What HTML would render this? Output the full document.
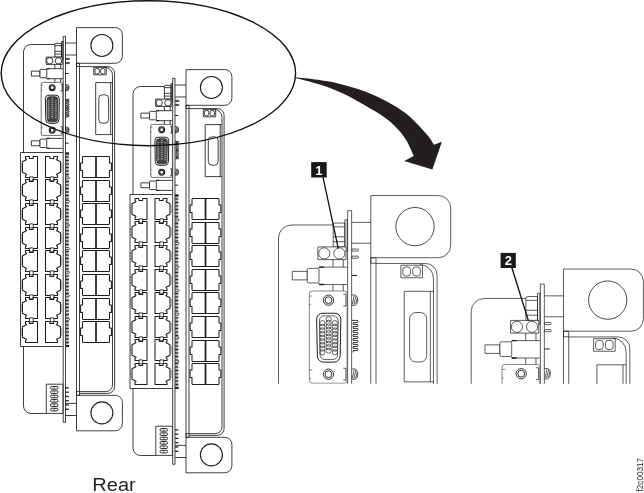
<!DOCTYPE html>
<html lang="en"><head><meta charset="utf-8"><title>Rear view</title>
<style>html,body{margin:0;padding:0;background:#fff}body{width:644px;height:493px;overflow:hidden;position:relative;font-family:"Liberation Sans",Arial,sans-serif}svg{position:absolute;left:0;top:0;display:block;will-change:transform}#card *{vector-effect:non-scaling-stroke}</style>
</head><body>
<svg width="644" height="493" viewBox="0 0 644 493">
<defs>
<g id="card" fill="none" stroke="#1f1c1d" stroke-linejoin="round" style="stroke-width:var(--sw,0.85)">
<path d="M54.9,44.5H31A7.5,7.5 0 0 0 23.5,52V152.5"/>
<path d="M23.5,346.5V406A7.5,7.5 0 0 0 31,413.5H46.5"/>
<path d="M63,152.5H20.5V346.5H63"/>
<path transform="translate(21.5,156.50)" d="M16,0H11.6V1.9H7.9V0H4V1.8L4.9,2.9V3.3L1,5.3V15.7L4.9,17.7V18.1L4,19.2V21H16Z" stroke-width="1.05"/><path transform="translate(21.5,156.50)" d="M1,6.8H-0.3V14.2H1" stroke-width="0.6" stroke="#666"/>
<path transform="translate(61.5,156.50) scale(-1,1)" d="M16,0H11.6V1.9H7.9V0H4V1.8L4.9,2.9V3.3L1,5.3V15.7L4.9,17.7V18.1L4,19.2V21H16Z" stroke-width="1.05"/><path transform="translate(61.5,156.50) scale(-1,1)" d="M1,6.8H-0.3V14.2H1" stroke-width="0.6" stroke="#666"/>
<rect x="29.5" y="176.90" width="3.7" height="3.9" fill="#fff"/>
<rect x="50.3" y="176.90" width="3.7" height="3.9" fill="#fff"/>
<path transform="translate(0,156.50)" d="M83.1,0H108.9L109.5,0.6V6.5H111.4V14H109.5V20.4L108.9,21H83.1L82.5,20.4V14H80.6V6.5H82.5V0.6Z" stroke-width="1.05"/>
<path d="M96,156.50V177.50" stroke-width="1.7"/>
<path transform="translate(21.5,179.50)" d="M16,0H11.6V1.9H7.9V0H4V1.8L4.9,2.9V3.3L1,5.3V15.7L4.9,17.7V18.1L4,19.2V21H16Z" stroke-width="1.05"/><path transform="translate(21.5,179.50)" d="M1,6.8H-0.3V14.2H1" stroke-width="0.6" stroke="#666"/>
<path transform="translate(61.5,179.50) scale(-1,1)" d="M16,0H11.6V1.9H7.9V0H4V1.8L4.9,2.9V3.3L1,5.3V15.7L4.9,17.7V18.1L4,19.2V21H16Z" stroke-width="1.05"/><path transform="translate(61.5,179.50) scale(-1,1)" d="M1,6.8H-0.3V14.2H1" stroke-width="0.6" stroke="#666"/>
<rect x="29.5" y="199.90" width="3.7" height="3.9" fill="#fff"/>
<rect x="50.3" y="199.90" width="3.7" height="3.9" fill="#fff"/>
<path transform="translate(0,180.50)" d="M83.1,0H108.9L109.5,0.6V6.5H111.4V14H109.5V20.4L108.9,21H83.1L82.5,20.4V14H80.6V6.5H82.5V0.6Z" stroke-width="1.05"/>
<path d="M96,180.50V201.50" stroke-width="1.7"/>
<path transform="translate(21.5,203.50)" d="M16,0H11.6V1.9H7.9V0H4V1.8L4.9,2.9V3.3L1,5.3V15.7L4.9,17.7V18.1L4,19.2V21H16Z" stroke-width="1.05"/><path transform="translate(21.5,203.50)" d="M1,6.8H-0.3V14.2H1" stroke-width="0.6" stroke="#666"/>
<path transform="translate(61.5,203.50) scale(-1,1)" d="M16,0H11.6V1.9H7.9V0H4V1.8L4.9,2.9V3.3L1,5.3V15.7L4.9,17.7V18.1L4,19.2V21H16Z" stroke-width="1.05"/><path transform="translate(61.5,203.50) scale(-1,1)" d="M1,6.8H-0.3V14.2H1" stroke-width="0.6" stroke="#666"/>
<rect x="29.5" y="223.90" width="3.7" height="3.9" fill="#fff"/>
<rect x="50.3" y="223.90" width="3.7" height="3.9" fill="#fff"/>
<path transform="translate(0,203.50)" d="M83.1,0H108.9L109.5,0.6V6.5H111.4V14H109.5V20.4L108.9,21H83.1L82.5,20.4V14H80.6V6.5H82.5V0.6Z" stroke-width="1.05"/>
<path d="M96,203.50V224.50" stroke-width="1.7"/>
<path transform="translate(21.5,227.50)" d="M16,0H11.6V1.9H7.9V0H4V1.8L4.9,2.9V3.3L1,5.3V15.7L4.9,17.7V18.1L4,19.2V21H16Z" stroke-width="1.05"/><path transform="translate(21.5,227.50)" d="M1,6.8H-0.3V14.2H1" stroke-width="0.6" stroke="#666"/>
<path transform="translate(61.5,227.50) scale(-1,1)" d="M16,0H11.6V1.9H7.9V0H4V1.8L4.9,2.9V3.3L1,5.3V15.7L4.9,17.7V18.1L4,19.2V21H16Z" stroke-width="1.05"/><path transform="translate(61.5,227.50) scale(-1,1)" d="M1,6.8H-0.3V14.2H1" stroke-width="0.6" stroke="#666"/>
<rect x="29.5" y="247.90" width="3.7" height="3.9" fill="#fff"/>
<rect x="50.3" y="247.90" width="3.7" height="3.9" fill="#fff"/>
<path transform="translate(0,227.50)" d="M83.1,0H108.9L109.5,0.6V6.5H111.4V14H109.5V20.4L108.9,21H83.1L82.5,20.4V14H80.6V6.5H82.5V0.6Z" stroke-width="1.05"/>
<path d="M96,227.50V248.50" stroke-width="1.7"/>
<path transform="translate(21.5,250.50)" d="M16,0H11.6V1.9H7.9V0H4V1.8L4.9,2.9V3.3L1,5.3V15.7L4.9,17.7V18.1L4,19.2V21H16Z" stroke-width="1.05"/><path transform="translate(21.5,250.50)" d="M1,6.8H-0.3V14.2H1" stroke-width="0.6" stroke="#666"/>
<path transform="translate(61.5,250.50) scale(-1,1)" d="M16,0H11.6V1.9H7.9V0H4V1.8L4.9,2.9V3.3L1,5.3V15.7L4.9,17.7V18.1L4,19.2V21H16Z" stroke-width="1.05"/><path transform="translate(61.5,250.50) scale(-1,1)" d="M1,6.8H-0.3V14.2H1" stroke-width="0.6" stroke="#666"/>
<rect x="29.5" y="270.90" width="3.7" height="3.9" fill="#fff"/>
<rect x="50.3" y="270.90" width="3.7" height="3.9" fill="#fff"/>
<path transform="translate(0,250.50)" d="M83.1,0H108.9L109.5,0.6V6.5H111.4V14H109.5V20.4L108.9,21H83.1L82.5,20.4V14H80.6V6.5H82.5V0.6Z" stroke-width="1.05"/>
<path d="M96,250.50V271.50" stroke-width="1.7"/>
<path transform="translate(21.5,274.50)" d="M16,0H11.6V1.9H7.9V0H4V1.8L4.9,2.9V3.3L1,5.3V15.7L4.9,17.7V18.1L4,19.2V21H16Z" stroke-width="1.05"/><path transform="translate(21.5,274.50)" d="M1,6.8H-0.3V14.2H1" stroke-width="0.6" stroke="#666"/>
<path transform="translate(61.5,274.50) scale(-1,1)" d="M16,0H11.6V1.9H7.9V0H4V1.8L4.9,2.9V3.3L1,5.3V15.7L4.9,17.7V18.1L4,19.2V21H16Z" stroke-width="1.05"/><path transform="translate(61.5,274.50) scale(-1,1)" d="M1,6.8H-0.3V14.2H1" stroke-width="0.6" stroke="#666"/>
<rect x="29.5" y="294.90" width="3.7" height="3.9" fill="#fff"/>
<rect x="50.3" y="294.90" width="3.7" height="3.9" fill="#fff"/>
<path transform="translate(0,274.50)" d="M83.1,0H108.9L109.5,0.6V6.5H111.4V14H109.5V20.4L108.9,21H83.1L82.5,20.4V14H80.6V6.5H82.5V0.6Z" stroke-width="1.05"/>
<path d="M96,274.50V295.50" stroke-width="1.7"/>
<path transform="translate(21.5,297.50)" d="M16,0H11.6V1.9H7.9V0H4V1.8L4.9,2.9V3.3L1,5.3V15.7L4.9,17.7V18.1L4,19.2V21H16Z" stroke-width="1.05"/><path transform="translate(21.5,297.50)" d="M1,6.8H-0.3V14.2H1" stroke-width="0.6" stroke="#666"/>
<path transform="translate(61.5,297.50) scale(-1,1)" d="M16,0H11.6V1.9H7.9V0H4V1.8L4.9,2.9V3.3L1,5.3V15.7L4.9,17.7V18.1L4,19.2V21H16Z" stroke-width="1.05"/><path transform="translate(61.5,297.50) scale(-1,1)" d="M1,6.8H-0.3V14.2H1" stroke-width="0.6" stroke="#666"/>
<rect x="29.5" y="317.90" width="3.7" height="3.9" fill="#fff"/>
<rect x="50.3" y="317.90" width="3.7" height="3.9" fill="#fff"/>
<path transform="translate(0,298.50)" d="M83.1,0H108.9L109.5,0.6V6.5H111.4V14H109.5V20.4L108.9,21H83.1L82.5,20.4V14H80.6V6.5H82.5V0.6Z" stroke-width="1.05"/>
<path d="M96,298.50V319.50" stroke-width="1.7"/>
<path transform="translate(21.5,321.50)" d="M16,0H11.6V1.9H7.9V0H4V1.8L4.9,2.9V3.3L1,5.3V15.7L4.9,17.7V18.1L4,19.2V21H16Z" stroke-width="1.05"/><path transform="translate(21.5,321.50)" d="M1,6.8H-0.3V14.2H1" stroke-width="0.6" stroke="#666"/>
<path transform="translate(61.5,321.50) scale(-1,1)" d="M16,0H11.6V1.9H7.9V0H4V1.8L4.9,2.9V3.3L1,5.3V15.7L4.9,17.7V18.1L4,19.2V21H16Z" stroke-width="1.05"/><path transform="translate(61.5,321.50) scale(-1,1)" d="M1,6.8H-0.3V14.2H1" stroke-width="0.6" stroke="#666"/>
<path transform="translate(0,321.50)" d="M83.1,0H108.9L109.5,0.6V6.5H111.4V14H109.5V20.4L108.9,21H83.1L82.5,20.4V14H80.6V6.5H82.5V0.6Z" stroke-width="1.05"/>
<path d="M96,321.50V342.50" stroke-width="1.7"/>
<rect x="65.5" y="152.3" width="3.6" height="2.2" fill="#1f1c1d" stroke="none"/>
<path d="M67.2,154.5V345" stroke-width="3.2" stroke-dasharray="0.8 0.6" stroke="#262626"/>
<rect x="65.5" y="345" width="3.6" height="2" fill="#1f1c1d" stroke="none"/>
<rect x="65.6" y="176.28" width="4.4" height="3.4" fill="#fff" stroke="none"/>
<path d="M65.6,176.88H68.4A1,1 0 0 1 68.4,178.88H65.6"/>
<rect x="65.6" y="199.86" width="4.4" height="3.4" fill="#fff" stroke="none"/>
<path d="M65.6,200.46H68.4A1,1 0 0 1 68.4,202.46H65.6"/>
<rect x="65.6" y="223.44" width="4.4" height="3.4" fill="#fff" stroke="none"/>
<path d="M65.6,224.04H68.4A1,1 0 0 1 68.4,226.04H65.6"/>
<rect x="65.6" y="247.02" width="4.4" height="3.4" fill="#fff" stroke="none"/>
<path d="M65.6,247.62H68.4A1,1 0 0 1 68.4,249.62H65.6"/>
<rect x="65.6" y="270.60" width="4.4" height="3.4" fill="#fff" stroke="none"/>
<path d="M65.6,271.20H68.4A1,1 0 0 1 68.4,273.20H65.6"/>
<rect x="65.6" y="294.18" width="4.4" height="3.4" fill="#fff" stroke="none"/>
<path d="M65.6,294.78H68.4A1,1 0 0 1 68.4,296.78H65.6"/>
<rect x="65.6" y="317.76" width="4.4" height="3.4" fill="#fff" stroke="none"/>
<path d="M65.6,318.36H68.4A1,1 0 0 1 68.4,320.36H65.6"/>
<path d="M63.2,36.3H65.5V422.3H63.2Z" fill="#fff"/>
<path d="M76.5,27.6H115.3A7.1,7.1 0 0 1 122.4,34.7V56.199999999999996A7.1,7.1 0 0 1 115.3,63.3H76.5Z" fill="#fff"/>
<circle cx="101.9" cy="45.45" r="11" style="stroke-width:var(--circ,1.1)"/>
<path d="M76.5,395.3H115.3A7.1,7.1 0 0 1 122.4,402.40000000000003V423.7A7.1,7.1 0 0 1 115.3,430.8H76.5Z" fill="#fff"/>
<circle cx="101.9" cy="412.85" r="11" style="stroke-width:var(--circ,1.1)"/>
<path d="M65.6,43.0H76.5"/>
<path d="M65.6,55.0H76.5"/>
<path d="M65.6,403.4H76.5"/>
<path d="M65.6,415.5H76.5"/>
<path d="M54.9,57.1V44.3A1,1 0 0 1 55.9,43.4H61.6V57.1Z" fill="#fff"/>
<path d="M54.9,45.6H61.6M54.9,51.3H61.6M54.9,54.1H61.6"/>
<rect x="61.6" y="41.5" width="1.3" height="18"/>
<rect x="46.1" y="57.1" width="16.2" height="7.3" fill="#fff"/>
<circle cx="49.75" cy="60.8" r="3.2"/><circle cx="58.45" cy="60.8" r="3.2"/>
<rect x="65.6" y="58.3" width="3.9" height="1.2" rx="0.5"/><rect x="65.6" y="62.4" width="3.9" height="1.2" rx="0.5"/>
<path d="M65.6,73.5H68.6M65.6,143.2H68.6" stroke-width="1"/>
<g transform="translate(0,0)">
<rect x="31.4" y="71.15" width="8.6" height="4.9" fill="#fff"/>
<rect x="40" y="69.4" width="6.75" height="8.4" rx="0.8" fill="#fff"/>
<path d="M46.75,68.7H62.9M46.75,78.7H62.9M46.75,68.7V69.4M46.75,77.8V78.7"/>
<path d="M46.9,68.7H49.6M46.9,78.7H49.6" stroke-width="1.3"/>
<path d="M54.8,64.4V68.7M60.7,64.4V68.7M54.8,78.7V82.4M60.7,78.7V82.4" />
</g>
<g transform="translate(0,69.7)">
<rect x="31.4" y="71.15" width="8.6" height="4.9" fill="#fff"/>
<rect x="40" y="69.4" width="6.75" height="8.4" rx="0.8" fill="#fff"/>
<path d="M46.75,68.7H62.9M46.75,78.7H62.9M46.75,68.7V69.4M46.75,77.8V78.7"/>
<path d="M46.9,68.7H49.6M46.9,78.7H49.6" stroke-width="1.3"/>
</g>
<rect x="41.2" y="82.4" width="21.7" height="53" rx="1.6" stroke="#555"/>
<circle cx="52.2" cy="87.7" r="2.95" style="stroke-width:var(--ring,0.9)"/><circle cx="52.2" cy="87.7" r="1.95" style="stroke-width:var(--ring,0.9)"/>
<path d="M60.7,84.30H62.2V91.10H60.7"/>
<path d="M65.6,84.7H67.2A1.8,3 0 0 1 67.2,90.7H65.6" />
<path d="M65.9,90.10L67,85.10M66.8,90.30L68,85.30M67.8,89.90L68.8,86.50" stroke-width="0.7"/>
<path d="M41.2,85.3H43M41.2,90.10000000000001H42.2" stroke-width="0.5"/>
<circle cx="52.2" cy="130.2" r="2.95" style="stroke-width:var(--ring,0.9)"/><circle cx="52.2" cy="130.2" r="1.95" style="stroke-width:var(--ring,0.9)"/>
<path d="M60.7,126.80H62.2V133.60H60.7"/>
<path d="M65.6,127.19999999999999H67.2A1.8,3 0 0 1 67.2,133.2H65.6" />
<path d="M65.9,132.60L67,127.60M66.8,132.80L68,127.80M67.8,132.40L68.8,129.00" stroke-width="0.7"/>
<path d="M41.2,127.79999999999998H43M41.2,132.6H42.2" stroke-width="0.5"/>
<path d="M49,95.2H55.9A3.4,3.4 0 0 1 59.3,98.6L58.9,119.6A3.6,3.7 0 0 1 55.3,123.3H49.4A3.6,3.7 0 0 1 45.8,119.6L45.4,98.6A3.4,3.4 0 0 1 49,95.2Z" stroke-width="1" fill="#fff"/>
<path d="M49.7,96.7H55.1A2.7,2.7 0 0 1 57.8,99.4L57.4,119.2A2.6,2.6 0 0 1 54.8,121.8H50A2.6,2.6 0 0 1 47.4,119.2L47,99.4A2.7,2.7 0 0 1 49.7,96.7Z" stroke-width="0.7" style="fill:var(--dsub,#fff)"/>
<circle cx="48.7" cy="100.90" r="1.5" stroke-width="0.75" stroke="#333" style="fill:var(--pin,none)"/>
<circle cx="55.9" cy="100.90" r="1.5" stroke-width="0.75" stroke="#333" style="fill:var(--pin,none)"/>
<circle cx="48.7" cy="102.99" r="1.5" stroke-width="0.75" stroke="#333" style="fill:var(--pin,none)"/>
<circle cx="55.9" cy="102.99" r="1.5" stroke-width="0.75" stroke="#333" style="fill:var(--pin,none)"/>
<circle cx="48.7" cy="105.08" r="1.5" stroke-width="0.75" stroke="#333" style="fill:var(--pin,none)"/>
<circle cx="55.9" cy="105.08" r="1.5" stroke-width="0.75" stroke="#333" style="fill:var(--pin,none)"/>
<circle cx="48.7" cy="107.17" r="1.5" stroke-width="0.75" stroke="#333" style="fill:var(--pin,none)"/>
<circle cx="55.9" cy="107.17" r="1.5" stroke-width="0.75" stroke="#333" style="fill:var(--pin,none)"/>
<circle cx="48.7" cy="109.26" r="1.5" stroke-width="0.75" stroke="#333" style="fill:var(--pin,none)"/>
<circle cx="55.9" cy="109.26" r="1.5" stroke-width="0.75" stroke="#333" style="fill:var(--pin,none)"/>
<circle cx="48.7" cy="111.35" r="1.5" stroke-width="0.75" stroke="#333" style="fill:var(--pin,none)"/>
<circle cx="55.9" cy="111.35" r="1.5" stroke-width="0.75" stroke="#333" style="fill:var(--pin,none)"/>
<circle cx="48.7" cy="113.44" r="1.5" stroke-width="0.75" stroke="#333" style="fill:var(--pin,none)"/>
<circle cx="55.9" cy="113.44" r="1.5" stroke-width="0.75" stroke="#333" style="fill:var(--pin,none)"/>
<circle cx="48.7" cy="115.53" r="1.5" stroke-width="0.75" stroke="#333" style="fill:var(--pin,none)"/>
<circle cx="55.9" cy="115.53" r="1.5" stroke-width="0.75" stroke="#333" style="fill:var(--pin,none)"/>
<circle cx="48.7" cy="117.62" r="1.5" stroke-width="0.75" stroke="#333" style="fill:var(--pin,none)"/>
<circle cx="55.9" cy="117.62" r="1.5" stroke-width="0.75" stroke="#333" style="fill:var(--pin,none)"/>
<circle cx="52.3" cy="98.70" r="1.5" stroke-width="0.75" stroke="#333" style="fill:var(--pin,none)"/>
<circle cx="52.3" cy="100.70" r="1.5" stroke-width="0.75" stroke="#333" style="fill:var(--pin,none)"/>
<circle cx="52.3" cy="102.70" r="1.5" stroke-width="0.75" stroke="#333" style="fill:var(--pin,none)"/>
<circle cx="52.3" cy="104.70" r="1.5" stroke-width="0.75" stroke="#333" style="fill:var(--pin,none)"/>
<circle cx="52.3" cy="106.70" r="1.5" stroke-width="0.75" stroke="#333" style="fill:var(--pin,none)"/>
<circle cx="52.3" cy="108.70" r="1.5" stroke-width="0.75" stroke="#333" style="fill:var(--pin,none)"/>
<circle cx="52.3" cy="110.70" r="1.5" stroke-width="0.75" stroke="#333" style="fill:var(--pin,none)"/>
<circle cx="52.3" cy="112.70" r="1.5" stroke-width="0.75" stroke="#333" style="fill:var(--pin,none)"/>
<circle cx="52.3" cy="114.70" r="1.5" stroke-width="0.75" stroke="#333" style="fill:var(--pin,none)"/>
<circle cx="52.3" cy="116.70" r="1.5" stroke-width="0.75" stroke="#333" style="fill:var(--pin,none)"/>
<path d="M65.6,99.3H68.6A0.6,0.6 0 0 1 68.6,100.50H66.4V101.60H68.6A0.6,0.6 0 0 1 68.6,102.80H66.4V103.90H68.6A0.6,0.6 0 0 1 68.6,105.10H66.4V106.20H68.6A0.6,0.6 0 0 1 68.6,107.40H66.4V108.50H68.6A0.6,0.6 0 0 1 68.6,109.70H66.4V110.80H68.6A0.6,0.6 0 0 1 68.6,112.00H66.4V113.10H68.6A0.6,0.6 0 0 1 68.6,114.30H66.4V115.40H68.6A0.6,0.6 0 0 1 68.6,116.60H66.4V117.70" stroke-width="0.9"/>
<path d="M76.5,63.3V395.3M79.5,66.5V391.6"/>
<rect x="76.5" y="63.3" width="3" height="3.2"/>
<rect x="76.5" y="391.6" width="3" height="3.7"/>
<path d="M79.5,66.6H107.9A6.7,6.7 0 0 1 114.6,73.3V386.5A6.9,6.9 0 0 1 107.7,393.4H79.5"/>
<path d="M104.7,67.2A8,8 0 0 1 112.5,75.5V385A6.6,6.6 0 0 1 105.9,391.6H79.5"/>
<rect x="93.8" y="67.6" width="12.4" height="7.2"/>
<rect x="94.9" y="68.6" width="4.4" height="5.2" rx="1.6"/><rect x="100.6" y="68.6" width="4.4" height="5.2" rx="1.6"/>
<path d="M112.5,82.6H95.7V134.6H112.5M110.7,82.6V134.6"/>
<rect x="98.8" y="94.8" width="9.8" height="28.4" rx="3.6"/>
<rect x="46.3" y="384.2" width="16.6" height="29.2" fill="#fff"/>
<rect x="50.6" y="386.50" width="7.3" height="2.6" rx="1" stroke-width="0.95"/>
<path d="M54.2,386.50V389.10" stroke-width="0.5"/>
<rect x="50.6" y="390.86" width="7.3" height="2.6" rx="1" stroke-width="0.95"/>
<path d="M54.2,390.86V393.46" stroke-width="0.5"/>
<rect x="50.6" y="395.22" width="7.3" height="2.6" rx="1" stroke-width="0.95"/>
<path d="M54.2,395.22V397.82" stroke-width="0.5"/>
<rect x="50.6" y="399.58" width="7.3" height="2.6" rx="1" stroke-width="0.95"/>
<path d="M54.2,399.58V402.18" stroke-width="0.5"/>
<rect x="50.6" y="403.94" width="7.3" height="2.6" rx="1" stroke-width="0.95"/>
<path d="M54.2,403.94V406.54" stroke-width="0.5"/>
<rect x="50.6" y="408.30" width="7.3" height="2.6" rx="1" stroke-width="0.95"/>
<path d="M54.2,408.30V410.90" stroke-width="0.5"/>
<path d="M65.6,387.90H68.8" stroke-width="1.3"/>
<path d="M65.6,392.17H68.8" stroke-width="1.3"/>
<path d="M65.6,396.44H68.8" stroke-width="1.3"/>
<path d="M65.6,400.71H68.8" stroke-width="1.3"/>
<path d="M65.6,404.98H68.8" stroke-width="1.3"/>
<path d="M65.6,409.25H68.8" stroke-width="1.3"/>
</g>
<clipPath id="c1"><rect x="270" y="150" width="190" height="233.8"/></clipPath>
<clipPath id="c2"><rect x="462" y="250" width="182" height="133.8"/></clipPath>
</defs>
<rect width="644" height="493" fill="#fff"/>
<use href="#card" style="--dsub:#444;--pin:#9a9a9a;--ring:1.05"/>
<use href="#card" transform="translate(109.5,42)" style="--dsub:#444;--pin:#9a9a9a;--ring:1.05"/>
<g clip-path="url(#c1)"><use href="#card" transform="translate(237.6,147.5) scale(1.741)" style="--sw:0.72;--circ:0.8"/></g>
<g clip-path="url(#c2)"><use href="#card" transform="translate(430.3,221) scale(1.741)" style="--sw:0.72;--circ:0.8"/></g>
<ellipse cx="148.4" cy="73.2" rx="147.2" ry="72.5" fill="none" stroke="#111" stroke-width="1.4"/>
<path d="M295.6,77.2C299.3,77.6 310.3,78.6 318.0,79.8C325.7,81.0 332.8,82.0 342.0,84.5C351.2,87.0 362.7,90.1 373.0,94.7C383.3,99.3 395.2,105.5 404.0,112.0C412.8,118.5 421.0,128.0 426.0,133.5C431.0,139.0 432.7,142.9 434.0,144.8L441.9,141.7L432.4,169.4L404.2,161L413.8,156C412.6,153.5 409.2,145.3 406.7,141.0C404.2,136.7 401.7,133.5 398.6,130.0C395.5,126.5 392.3,123.3 388.0,120.0C383.7,116.7 380.7,114.5 373.0,110.0C365.3,105.5 351.2,97.3 342.0,93.0C332.8,88.7 325.7,86.5 318.0,84.0C310.3,81.5 299.3,78.9 295.6,77.9Z" fill="#231f20" stroke="none"/>
<rect x="311.2" y="162.1" width="15.5" height="15.4" fill="#1a1718"/>
<path d="M323,177.2L338.3,248.6" stroke="#111" stroke-width="1.3"/>
<text x="318.8" y="175.2" font-size="13" font-weight="bold" fill="#fff" text-anchor="middle">1</text>
<rect x="500.6" y="252.9" width="15.2" height="15.1" fill="#1a1718"/>
<path d="M511.9,267.8L528.5,321" stroke="#111" stroke-width="1.3"/>
<text x="508.4" y="265.3" font-size="13" font-weight="bold" fill="#fff" text-anchor="middle">2</text>
<text transform="translate(92.3,491.4) scale(1.045,1)" font-size="19.2" fill="#231f20">Rear</text>
<text transform="translate(642.9,491.4) rotate(-90)" font-size="9.4" fill="#231f20" textLength="33.3" lengthAdjust="spacingAndGlyphs">f2c00317</text>
</svg>
</body></html>
